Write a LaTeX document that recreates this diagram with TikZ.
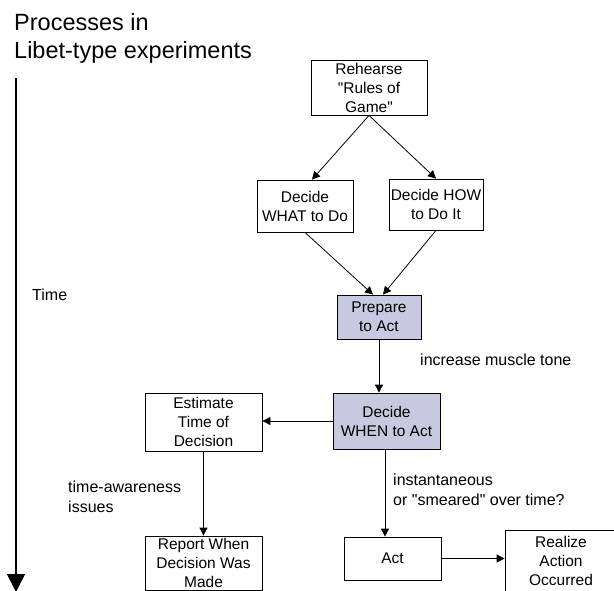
\documentclass[tikz,border=0pt]{standalone}
\usepackage{fontspec}
\setmainfont{Liberation Sans}[Ligatures=TeXOff]
\usetikzlibrary{arrows.meta}
\definecolor{lav}{HTML}{C8C8E0}
\newcommand{\sq}{{\char34}}
\tikzset{
  box/.style={draw=black, line width=0.8pt, align=center, inner sep=0pt,
    font=\fontsize{15.5}{19}\selectfont},
  hl/.style={box, fill=lav},
  conn/.style={draw=black, line width=0.8pt, -{Triangle[length=8pt,width=8pt]}},
  lbl/.style={align=left, inner sep=0pt, font=\fontsize{16}{20}\selectfont},
}
\begin{document}
\begin{tikzpicture}[x=1pt,y=-1pt]
\useasboundingbox (0,0) rectangle (614,590);
% title
\node[anchor=north west, align=left, inner sep=0pt, font=\fontsize{23.5}{28.5}\selectfont] (title) at (14,13) {Processes in\\Libet-type experiments};
% time axis
\coordinate (tstart) at (16,78);
\coordinate (tend) at (16,592);
\draw[line width=1.6pt, -{Triangle[length=18pt,width=18pt]}] (tstart) -- (tend);
\node[lbl, anchor=west] (time) at (32,295) {Time};
% boxes
\node[box, minimum width=116pt, minimum height=55pt] (reh) at (369,87.5) {Rehearse\\\sq Rules of\\Game\sq};
\node[box, minimum width=96pt, minimum height=52pt] (what) at (305,206) {Decide\\WHAT to Do};
\node[box, minimum width=94pt, minimum height=51pt] (how) at (436,204.5) {Decide HOW\\to Do It};
\node[hl, minimum width=84pt, minimum height=44pt] (prep) at (379,317) {Prepare\\to Act};
\node[hl, minimum width=107pt, minimum height=56pt] (when) at (386.5,421) {Decide\\WHEN to Act};
\node[box, minimum width=117pt, minimum height=58pt] (est) at (203.5,422) {Estimate\\Time of\\Decision};
\node[box, minimum width=117pt, minimum height=54pt] (rep) at (203.5,563) {Report When\\Decision Was\\Made};
\node[box, minimum width=97pt, minimum height=43pt] (act) at (392.5,558.5) {Act};
\node[box, minimum width=112pt, minimum height=62pt] (real) at (561,561) {Realize\\Action\\Occurred};
% connectors
\draw[conn] (reh.south) -- (what.north -| 312,0);
\draw[conn] (reh.south) -- (how.north);
\draw[conn] (what.south) -- ([xshift=-6pt]prep.north);
\draw[conn] (how.south) -- ([xshift=4pt]prep.north);
\draw[conn] (prep.south) -- (prep.south |- when.north);
\draw[conn] (when.west) -- (est.east |- when.west);
\draw[conn] (est.south) -- (rep.north);
\draw[conn] (when.south -| 385,0) -- (act.north -| 385,0);
\draw[conn] (act.east) -- (real.west |- act.east);
% labels
\node[lbl, anchor=west] (muscle) at (420,360) {increase muscle tone};
\node[lbl, anchor=west] (awareness) at (68,497) {time-awareness\\issues};
\node[lbl, anchor=west] (smear) at (393,490) {instantaneous\\or \sq smeared\sq{} over time?};
\end{tikzpicture}
\end{document}
